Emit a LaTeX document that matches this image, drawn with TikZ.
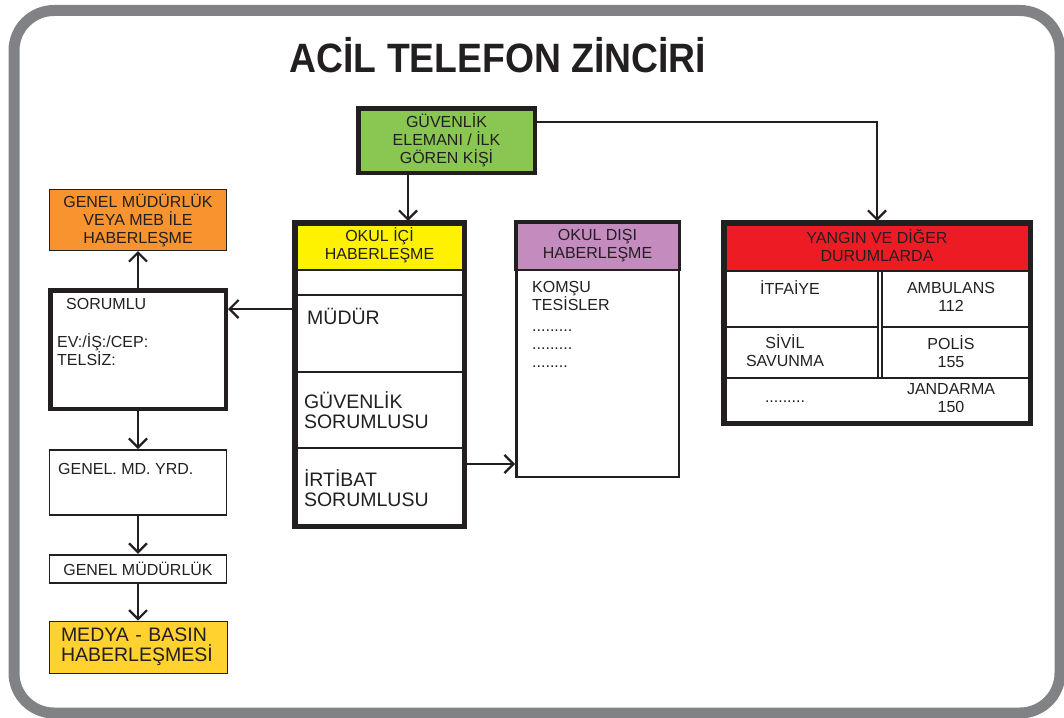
\documentclass[tikz,border=0pt]{standalone}
\usepackage{fontspec}
\setmainfont{Liberation Sans}
\usetikzlibrary{arrows.meta, positioning}

\definecolor{koyu}{HTML}{231F20}
\definecolor{cerceve}{HTML}{808285}
\definecolor{yesil}{HTML}{8AC652}
\definecolor{sari}{HTML}{FFF200}
\definecolor{mor}{HTML}{C48BBF}
\definecolor{kirmizi}{HTML}{ED1C24}
\definecolor{turuncu}{HTML}{F7942F}
\definecolor{altin}{HTML}{FFD22F}

\newcommand\kucukyazi{\fontsize{16}{18}\selectfont}
\newcommand\buyukyazi{\fontsize{19.5}{20}\selectfont}
\newcommand\basyazi{\fontsize{41}{41}\selectfont\bfseries}

\tikzstyle{kutu} = [rectangle, draw=koyu, text=koyu, font=\kucukyazi, align=center, inner sep=0pt]
\tikzstyle{kalin} = [kutu, line width=4.5pt]
\tikzstyle{hucre} = [kutu, line width=1.2pt, outer sep=0pt]
\tikzstyle{yazi} = [inner sep=0pt, text=koyu, font=\kucukyazi, align=left]
\tikzstyle{arrow} = [line width=2.2pt, draw=koyu, -{Straight Barb[length=9pt,width=18pt]}]

\begin{document}
\begin{tikzpicture}[x=1pt, y=-1pt]
\useasboundingbox (0,0) rectangle (1064,717);
\draw [cerceve, line width=11pt, rounded corners=40pt] (14,10.5) rectangle (1060,713);
\node (baslik) [anchor=base, text=koyu, font=\basyazi] at (498,72) {\scalebox{0.91}[1]{ACİL TELEFON ZİNCİRİ}};

\node (guvenlik) [kalin, fill=yesil, minimum width=176.5pt, minimum height=64.5pt] at (446.5,140.5) {GÜVENLİK\\ELEMANI / İLK\\GÖREN KİŞİ};

% okul ici
\node (icbaslik) [hucre, fill=sari, minimum width=173pt, minimum height=49pt] at (379.5,245.5) {OKUL İÇİ\\HABERLEŞME};
\node (icbos) [hucre, minimum width=173pt, minimum height=25pt, below=0pt of icbaslik] {};
\node (mudur) [hucre, minimum width=173pt, minimum height=77pt, below=0pt of icbos] {};
\node (guvsor) [hucre, font=\buyukyazi, align=left, text width=151pt, inner xsep=11pt, minimum height=76pt, below=0pt of mudur] {GÜVENLİK\\SORUMLUSU};
\node (irtibat) [hucre, font=\buyukyazi, align=left, text width=151pt, inner xsep=11pt, minimum height=80pt, below=0pt of guvsor] {İRTİBAT\\SORUMLUSU};
\node (okulici) [kalin, minimum width=168.5pt, minimum height=302.5pt] at (379.5,374.5) {};
\node (mudurtxt) [yazi, font=\buyukyazi, anchor=base west] at (307,324) {MÜDÜR};

% okul disi
\node (disbaslik) [hucre, fill=mor, minimum width=165pt, minimum height=49pt] at (597.5,245.5) {OKUL DIŞI\\HABERLEŞME};
\node (okuldisi) [kutu, line width=2.5pt, minimum width=162.5pt, minimum height=254.5pt] at (597.5,349.5) {};
\node (komsu) [yazi, anchor=north west] at (532,281.3) {KOMŞU\\TESİSLER\\[3pt].........\\.........\\........};

% yangin
\node (ybaslik) [hucre, fill=kirmizi, minimum width=310pt, minimum height=50pt] at (877,246) {YANGIN VE DİĞER\\DURUMLARDA};
\node (itfaiye) [hucre, minimum width=156pt, minimum height=56pt] at (800,299) {};
\node (ambulans) [hucre, minimum width=150pt, minimum height=56pt] at (957,299) {};
\node (sivil) [hucre, minimum width=156pt, minimum height=51pt, below=0pt of itfaiye] {};
\node (polis) [hucre, minimum width=150pt, minimum height=51pt, below=0pt of ambulans] {};
\node (diger) [hucre, minimum width=310pt, minimum height=47pt] at (877,401.5) {};
\node (yangin) [kalin, minimum width=305.5pt, minimum height=199.5pt] at (877,323) {};
\node (itfaiyetxt) [yazi, anchor=base] at (790,294.7) {İTFAİYE};
\node (ambulanstxt) [yazi, align=center] at (951,296.5) {AMBULANS\\112};
\node (siviltxt) [yazi, align=center] at (785,351) {SİVİL\\SAVUNMA};
\node (polistxt) [yazi, align=center] at (951,351.5) {POLİS\\155};
\node (digertxt) [yazi, anchor=base] at (785,402.5) {.........};
\node (jandarmatxt) [yazi, align=center] at (951,398.5) {JANDARMA\\150};

% sol sutun
\node (sorumlu) [kalin, minimum width=175.5pt, minimum height=118.5pt] at (138,349.5) {};
\node (sorumlutxt) [yazi, anchor=north west] at (57,298.3) {\hspace*{9pt}SORUMLU\\[20pt]EV:/İŞ:/CEP:\\TELSİZ:};
\node (genelmeb) [kutu, line width=1pt, fill=turuncu, minimum width=177pt, minimum height=61pt, above=37pt of sorumlu] {GENEL MÜDÜRLÜK\\VEYA MEB İLE\\HABERLEŞME};
\node (mdyrd) [kutu, line width=1.8pt, minimum width=177pt, minimum height=65pt, below=38pt of sorumlu] {};
\node (mdyrdtxt) [yazi, anchor=base west] at (58,474.7) {GENEL. MD. YRD.};
\node (genelmudurluk) [kutu, line width=1.8pt, minimum width=177pt, minimum height=28pt, below=38pt of mdyrd] {GENEL MÜDÜRLÜK};
\node (medya) [kutu, line width=1pt, fill=altin, font=\buyukyazi, align=left, text width=154pt, inner xsep=12pt, minimum height=52pt, below=37pt of genelmudurluk] {MEDYA - BASIN\\HABERLEŞMESİ};

\draw [arrow] ([xshift=-38.5pt]guvenlik.south) -- ([xshift=-38.5pt]guvenlik.south |- okulici.north);
\draw [arrow] ([yshift=18.5pt]guvenlik.east) -| (yangin.north);
\draw [arrow] ([yshift=24.5pt]mudur.west) -- ([yshift=24.5pt]mudur.west -| sorumlu.east);
\draw [arrow] ([yshift=24pt]irtibat.east) -- ([yshift=24pt]irtibat.east -| okuldisi.west);
\draw [arrow] (sorumlu.north) -- (genelmeb.south);
\draw [arrow] (sorumlu.south) -- (mdyrd.north);
\draw [arrow] (mdyrd.south) -- (genelmudurluk.north);
\draw [arrow] (genelmudurluk.south) -- (medya.north);
\end{tikzpicture}
\end{document}
